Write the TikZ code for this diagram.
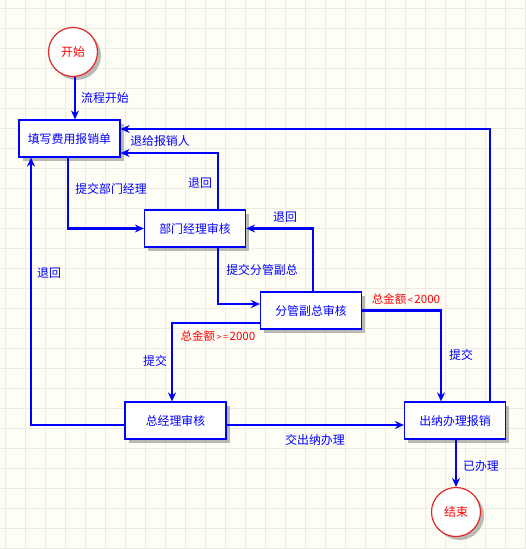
\documentclass[tikz,border=0pt]{standalone}
\usepackage{fontspec}
\setmainfont{Noto Sans CJK SC}
\usetikzlibrary{arrows.meta,shadows,calc}
\definecolor{bg}{HTML}{FEFEF6}
\definecolor{gridc}{HTML}{EDECE4}
\definecolor{flowblue}{HTML}{0000FF}
\definecolor{startred}{HTML}{E02828}
\tikzset{
  procbox/.style={draw=flowblue, line width=1.2pt, fill=white, text=flowblue,
    minimum width=101pt, minimum height=37pt, inner sep=0pt,
    font=\fontsize{11.9}{13}\selectfont,
    drop shadow={shadow xshift=3.5pt, shadow yshift=-3.5pt, fill=black!45, opacity=0.6}},
  termcirc/.style={circle, draw=startred, line width=1.2pt, fill=white, text=red,
    minimum size=49pt, inner sep=0pt, font=\fontsize{11.9}{13}\selectfont,
    drop shadow={shadow xshift=3.5pt, shadow yshift=-3.5pt, fill=black!45, opacity=0.6}},
  flow/.style={draw=flowblue, line width=2.6pt,
    -{Stealth[length=9pt,width=8pt,inset=3pt]}},
  lbl/.style={text=flowblue, font=\fontsize{11.9}{13}\selectfont, inner sep=0pt},
  redlbl/.style={text=red, font=\fontsize{11.5}{13}\selectfont, inner sep=0pt},
}
\begin{document}
\begin{tikzpicture}[x=1pt,y=-1pt]
\fill[bg] (0,0) rectangle (525,549);
\useasboundingbox (0,0) rectangle (525,549);
\foreach \k in {0,...,26} {\draw[gridc, line width=1.4pt] (5.7+20*\k,0) -- (5.7+20*\k,549);}
\foreach \k in {0,...,27} {\draw[gridc, line width=1.4pt] (0,8.5+20*\k) -- (525,8.5+20*\k);}

\node[termcirc] (start) at (73,52) {开始};
\node[procbox] (b1) at (69.5,138.5) {填写费用报销单};
\node[procbox] (b2) at (195,228.5) {部门经理审核};
\node[procbox] (b3) at (311,310.5) {分管副总审核};
\node[procbox] (b4) at (175.5,420.5) {总经理审核};
\node[procbox] (b5) at (455,420.5) {出纳办理报销};
\node[termcirc] (end) at (456,512) {结束};

\draw[flow] ([xshift=2pt]start.south) -- ([xshift=2pt]start.south |- b1.north);
\draw[flow] ([xshift=-1.5pt]b1.south) |- (b2.west);
\draw[flow] ([xshift=23pt]b2.north) |- ([yshift=-14.5pt]b1.east);
\draw[flow] ([xshift=23pt]b2.south) |- ([yshift=6.5pt]b3.west);
\draw[flow] ([xshift=2pt]b3.north) |- (b2.east);
\draw[flow] ([yshift=-12.5pt]b3.west) -| ([xshift=-3.5pt]b4.north);
\draw[flow] (b3.east) -| ([xshift=-14pt]b5.north);
\draw[flow] ([yshift=-4.5pt]b4.west) -| ([xshift=-38.5pt]b1.south);
\draw[flow] ([yshift=-4.5pt]b4.east) -- ([yshift=-4.5pt]b5.west);
\draw[flow] ([xshift=35pt]b5.north) |- ([yshift=9.5pt]b1.east);
\draw[flow] (b5.south -| end.north) -- (end.north);

\node[lbl, anchor=west] (l1) at (81,98) {流程开始};
\node[lbl] (l2) at (160,141) {退给报销人};
\node[lbl] (l3) at (111,189) {提交部门经理};
\node[lbl] (l4) at (200,183) {退回};
\node[lbl] (l5) at (49,273) {退回};
\node[lbl] (l6) at (285,217) {退回};
\node[lbl] (l7) at (262,270) {提交分管副总};
\node[redlbl] (l8) at (218,336) {总金额{\fontsize{9}{10}\selectfont\,>\,=\,}2000};
\node[lbl] (l9) at (155,361) {提交};
\node[redlbl] (l10) at (406,299) {总金额{\fontsize{9}{10}\selectfont\,<\,}2000};
\node[lbl] (l11) at (461,355) {提交};
\node[lbl] (l12) at (315,440) {交出纳办理};
\node[lbl] (l13) at (481,466) {已办理};
\end{tikzpicture}
\end{document}
